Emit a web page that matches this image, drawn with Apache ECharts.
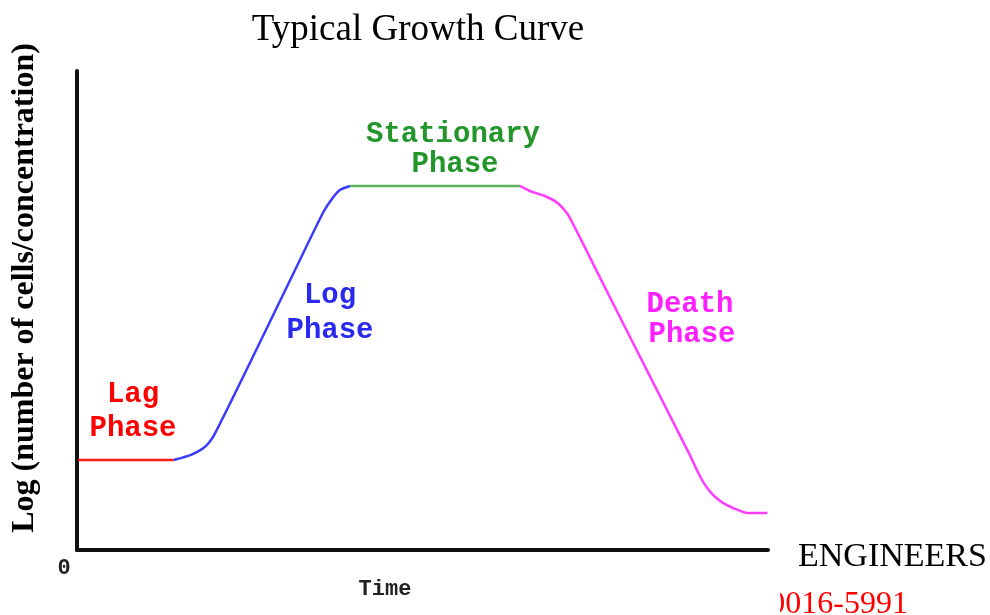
<!DOCTYPE html>
<html>
<head>
<meta charset="utf-8">
<script src="https://cdn.jsdelivr.net/npm/echarts@6/dist/echarts.min.js"></script>
<style>
	html, body { margin: 0; padding: 0; background: #fff; }
	#main { width: 990px; height: 615px; }
</style>
</head>
<body>
<div id="main"></div>
<script>
// curve pieces, x = time (0-100), y = log cells (0-100)
var lagData = [[0.2, 18.8], [14.0, 18.8]];
var logData = [[14.0, 18.8], [16.4, 19.8], [18.5, 21.5], [19.7, 23.6], [25.0, 39.0], [30.8, 56.2],
	[35.6, 70.4], [37.0, 73.5], [38.1, 75.2], [39.5, 76.0]];
var stationaryData = [[39.5, 76.0], [64.1, 76.0]];
var deathData = [[64.1, 76.0], [65.6, 74.9], [67.7, 73.9], [69.6, 72.4], [71.1, 69.9], [75.7, 56.8],
	[82.9, 36.3], [88.7, 19.8], [89.7, 16.7], [90.7, 14.0], [91.9, 11.7], [93.3, 10.0],
	[95.2, 8.6], [97.0, 7.7], [99.9, 7.7]];

var phaseNames = ['Lag', 'Log', 'Stationary', 'Death'];

var container = document.getElementById('main');
var chart = echarts.init(container);

var labelFont = 'bold 29px "Liberation Mono", "DejaVu Sans Mono", monospace';

function phaseLabel(text, x, y, color){
	return {
		type: 'text',
		x: x,
		y: y,
		z: 10,
		style: {
			text: text,
			font: labelFont,
			fill: color,
			textAlign: 'center',
			textVerticalAlign: 'middle'
		}
	};
}

function curve(name, data, color){
	return {
		name: name,
		type: 'line',
		data: data,
		symbol: 'none',
		smooth: 0.2,
		silent: true,
		animation: false,
		lineStyle: {
			color: color,
			width: 2.5
		}
	};
}

var option = {
	backgroundColor: '#fff',
	title: {
		text: 'Typical Growth Curve',
		left: 413,
		top: 7,
		textAlign: 'center',
		textStyle: {
			fontFamily: '"Liberation Serif", "Times New Roman", serif',
			fontWeight: 'normal',
			fontSize: 37,
			color: '#000'
		}
	},
	grid: {
		left: 77,
		top: 71,
		right: 222,
		bottom: 65
	},
	xAxis: {
		type: 'value',
		min: 0,
		max: 100,
		axisLine: { show: true, lineStyle: { color: '#111', width: 4 } },
		axisTick: { show: false },
		axisLabel: { show: false },
		splitLine: { show: false }
	},
	yAxis: {
		type: 'value',
		min: 0,
		max: 100,
		axisLine: { show: true, lineStyle: { color: '#111', width: 4 } },
		axisTick: { show: false },
		axisLabel: { show: false },
		splitLine: { show: false }
	},
	series: [
		curve(phaseNames[0], lagData, '#ff1a1a'),
		curve(phaseNames[1], logData, '#3b3bff'),
		curve(phaseNames[2], stationaryData, '#5fb35f'),
		curve(phaseNames[3], deathData, '#ff3dff')
	],
	graphic: [
		phaseLabel('Lag', 133, 395, '#ff0000'),
		phaseLabel('Phase', 133, 429, '#ff0000'),
		phaseLabel('Log', 330, 296, '#2a2aee'),
		phaseLabel('Phase', 330, 331, '#2a2aee'),
		phaseLabel('Stationary', 453, 135, '#22962a'),
		phaseLabel('Phase', 455, 165, '#22962a'),
		phaseLabel('Death', 690, 305, '#ff20ff'),
		phaseLabel('Phase', 692, 335, '#ff20ff'),
		{
			type: 'text',
			x: 25,
			y: 288,
			rotation: Math.PI / 2,
			style: {
				text: 'Log (number of cells/concentration)',
				font: 'bold 32px "Liberation Serif", "Times New Roman", serif',
				fill: '#000',
				textAlign: 'center',
				textVerticalAlign: 'middle'
			}
		},
		{
			type: 'text',
			x: 64,
			y: 568,
			style: {
				text: '0',
				font: 'bold 22px "Liberation Mono", monospace',
				fill: '#222',
				textAlign: 'center',
				textVerticalAlign: 'middle'
			}
		},
		{
			type: 'text',
			x: 385,
			y: 589,
			style: {
				text: 'Time',
				font: 'bold 22px "Liberation Mono", monospace',
				fill: '#222',
				textAlign: 'center',
				textVerticalAlign: 'middle'
			}
		},
		{
			type: 'text',
			x: 798,
			y: 574,
			style: {
				text: 'ENGINEERS',
				font: '34px "Liberation Serif", "Times New Roman", serif',
				fill: '#000',
				textAlign: 'left',
				textVerticalAlign: 'bottom'
			}
		},
		{
			type: 'text',
			x: 908,
			y: 621,
			style: {
				text: '0016-5991',
				font: '32px "Liberation Serif", "Times New Roman", serif',
				fill: '#ff0000',
				textAlign: 'right',
				textVerticalAlign: 'bottom'
			}
		},
		{
			// hides the cut-off start of the red number
			type: 'rect',
			z: 20,
			shape: { x: 700, y: 588, width: 80, height: 27 },
			style: { fill: '#fff' }
		}
	]
};

chart.setOption(option);
</script>
</body>
</html>
